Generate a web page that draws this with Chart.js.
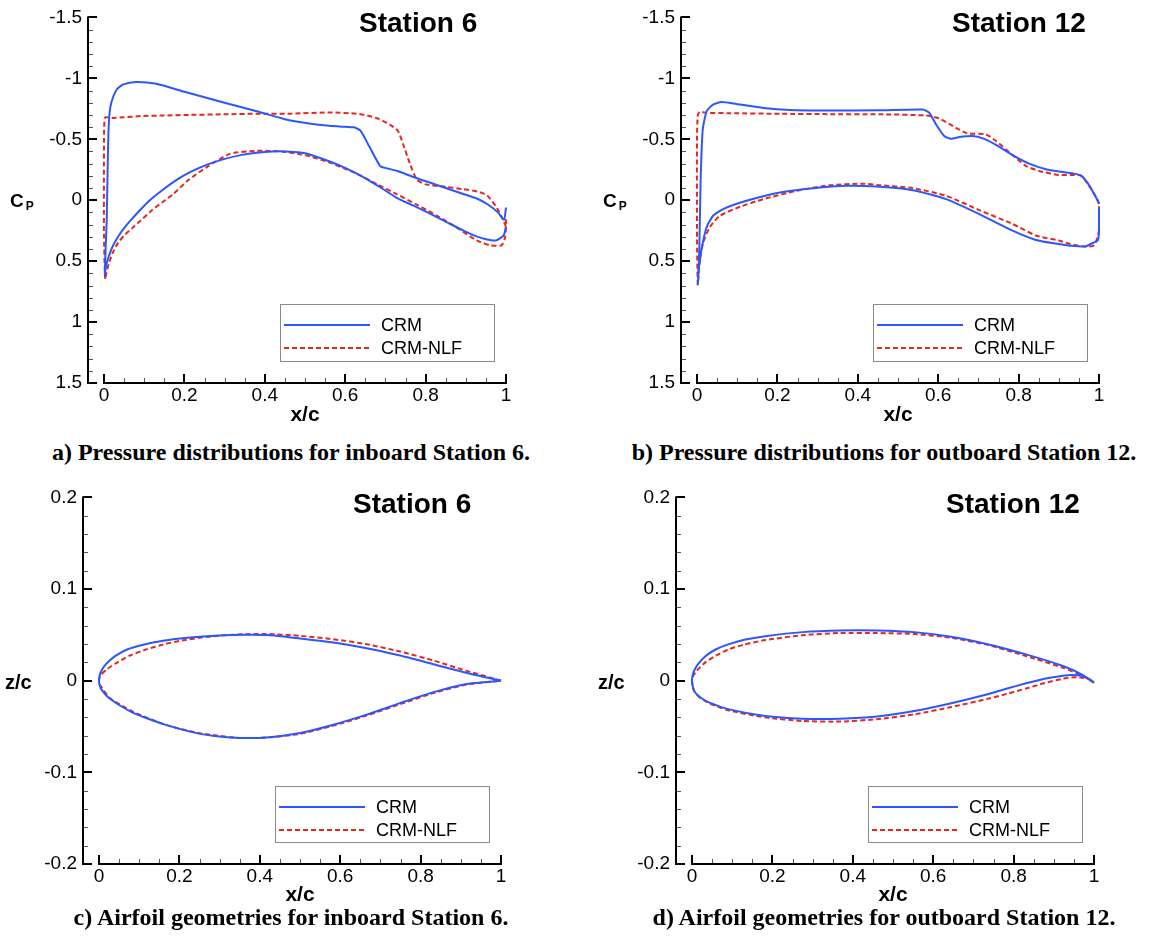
<!DOCTYPE html>
<html><head>
<meta charset="UTF-8">
<title>CRM vs CRM-NLF: pressure distributions and airfoil geometries</title>
<style>
  body { margin: 0; background: #fff; width: 1162px; height: 941px; position: relative; overflow: hidden; }
  canvas { position: absolute; }
  .cap {
    position: absolute; white-space: nowrap; transform: translateX(-50%);
    font: bold 24px "Liberation Serif", "Times New Roman", serif; line-height: 24px; color: #000;
  }
</style>
<script src="https://cdn.jsdelivr.net/npm/chart.js"></script>
</head>
<body>
  <canvas id="cA" width="560" height="430" style="left:0;top:0"></canvas>
  <canvas id="cB" width="560" height="430" style="left:593px;top:0"></canvas>
  <canvas id="cC" width="560" height="461" style="left:0;top:480px"></canvas>
  <canvas id="cD" width="560" height="461" style="left:593px;top:480px"></canvas>

  <div class="cap" style="left:291px;top:440px">a) Pressure distributions for inboard Station 6.</div>
  <div class="cap" style="left:884px;top:440px">b) Pressure distributions for outboard Station 12.</div>
  <div class="cap" style="left:291px;top:905px">c) Airfoil geometries for inboard Station 6.</div>
  <div class="cap" style="left:884px;top:905px">d) Airfoil geometries for outboard Station 12.</div>

<script>
// ticks
const xTicks = [0, 0.2, 0.4, 0.6, 0.8, 1];
const cpTicks = [-1.5, -1, -0.5, 0, 0.5, 1, 1.5];
const zTicks = [-0.2, -0.1, 0, 0.1, 0.2];
const seriesNames = ['CRM', 'CRM-NLF'];

// Station 6, Cp (upper and lower surface, leading edge -> trailing edge)
const s6CrmUpX  = [0.002, 0.004, 0.0067, 0.009, 0.011, 0.014, 0.019, 0.032, 0.048, 0.08, 0.13, 0.2, 0.3, 0.38, 0.45, 0.51, 0.56, 0.6, 0.622, 0.638, 0.66, 0.687, 0.7, 0.73, 0.77, 0.81, 0.85, 0.89, 0.93, 0.955, 0.98, 0.995, 1.0];
const s6CrmUpCp = [0.62, 0.4, 0.17, -0.25, -0.55, -0.72, -0.81, -0.91, -0.95, -0.97, -0.955, -0.89, -0.8, -0.73, -0.665, -0.63, -0.61, -0.602, -0.598, -0.57, -0.44, -0.28, -0.265, -0.24, -0.19, -0.145, -0.1, -0.055, -0.01, 0.035, 0.1, 0.16, 0.06];
const s6CrmLoX  = [0.002, 0.004, 0.01, 0.02, 0.035, 0.05, 0.065, 0.09, 0.114, 0.14, 0.175, 0.214, 0.255, 0.298, 0.34, 0.38, 0.42, 0.454, 0.5, 0.56, 0.6, 0.645, 0.69, 0.728, 0.77, 0.811, 0.85, 0.894, 0.925, 0.95, 0.975, 0.994, 1.0];
const s6CrmLoCp = [0.62, 0.56, 0.48, 0.39, 0.3, 0.23, 0.17, 0.08, 0.0, -0.07, -0.155, -0.23, -0.29, -0.337, -0.37, -0.39, -0.4, -0.4, -0.385, -0.32, -0.265, -0.19, -0.1, -0.02, 0.045, 0.11, 0.175, 0.25, 0.295, 0.32, 0.33, 0.29, 0.22];
const s6NlfUpX  = [0.003, 0.0, 0.0, 0.002, 0.01, 0.025, 0.048, 0.09, 0.15, 0.214, 0.3, 0.38, 0.463, 0.562, 0.629, 0.655, 0.685, 0.711, 0.731, 0.744, 0.761, 0.778, 0.8, 0.85, 0.894, 0.93, 0.953, 0.977, 0.994, 1.0];
const s6NlfUpCp = [0.65, 0.3, -0.5, -0.677, -0.68, -0.675, -0.68, -0.69, -0.695, -0.7, -0.705, -0.71, -0.71, -0.72, -0.71, -0.695, -0.665, -0.62, -0.57, -0.46, -0.3, -0.17, -0.13, -0.11, -0.09, -0.07, -0.04, 0.06, 0.17, 0.22];
const s6NlfLoX  = [0.003, 0.006, 0.012, 0.022, 0.035, 0.05, 0.07, 0.09, 0.12, 0.152, 0.172, 0.21, 0.255, 0.313, 0.38, 0.44, 0.5, 0.56, 0.62, 0.68, 0.728, 0.78, 0.83, 0.88, 0.927, 0.96, 0.989, 0.998, 1.0];
const s6NlfLoCp = [0.65, 0.6, 0.52, 0.43, 0.35, 0.29, 0.23, 0.17, 0.08, 0.0, -0.05, -0.165, -0.27, -0.38, -0.405, -0.4, -0.37, -0.31, -0.23, -0.13, -0.05, 0.04, 0.13, 0.23, 0.33, 0.37, 0.37, 0.3, 0.15];

// Station 12, Cp
const s12CrmUpX  = [0.002, 0.004, 0.0058, 0.009, 0.014, 0.024, 0.04, 0.061, 0.098, 0.165, 0.231, 0.33, 0.454, 0.562, 0.578, 0.595, 0.615, 0.632, 0.653, 0.686, 0.711, 0.744, 0.785, 0.826, 0.868, 0.9, 0.937, 0.956, 0.974, 0.993, 1.0];
const s12CrmUpCp = [0.69, 0.55, 0.39, -0.16, -0.57, -0.73, -0.785, -0.806, -0.79, -0.757, -0.74, -0.736, -0.738, -0.744, -0.717, -0.62, -0.526, -0.504, -0.518, -0.526, -0.507, -0.453, -0.37, -0.3, -0.254, -0.235, -0.218, -0.2, -0.13, -0.02, 0.03];
const s12CrmLoX  = [0.002, 0.005, 0.012, 0.024, 0.04, 0.065, 0.123, 0.206, 0.289, 0.371, 0.454, 0.537, 0.62, 0.702, 0.785, 0.843, 0.9, 0.928, 0.965, 0.988, 0.997, 1.0, 1.0];
const s12CrmLoCp = [0.69, 0.55, 0.39, 0.22, 0.128, 0.073, 0.005, -0.063, -0.099, -0.118, -0.11, -0.082, -0.009, 0.114, 0.25, 0.326, 0.36, 0.373, 0.38, 0.346, 0.33, 0.25, 0.06];
const s12NlfUpX  = [0.002, 0.0, 0.0, 0.002, 0.0075, 0.023, 0.082, 0.206, 0.33, 0.454, 0.57, 0.603, 0.644, 0.673, 0.719, 0.744, 0.785, 0.818, 0.851, 0.9, 0.937, 0.956, 0.979, 0.997, 1.0];
const s12NlfUpCp = [0.69, 0.3, -0.5, -0.7, -0.725, -0.717, -0.714, -0.709, -0.706, -0.705, -0.695, -0.67, -0.594, -0.548, -0.54, -0.485, -0.37, -0.281, -0.24, -0.207, -0.207, -0.2, -0.1, 0.0, 0.03];
const s12NlfLoX  = [0.002, 0.006, 0.015, 0.032, 0.057, 0.107, 0.165, 0.247, 0.33, 0.413, 0.454, 0.537, 0.62, 0.702, 0.785, 0.843, 0.9, 0.928, 0.965, 0.988, 1.0, 1.0];
const s12NlfLoCp = [0.69, 0.52, 0.35, 0.22, 0.128, 0.054, -0.009, -0.077, -0.123, -0.136, -0.123, -0.099, -0.036, 0.081, 0.195, 0.29, 0.33, 0.36, 0.38, 0.37, 0.25, 0.05];

// Station 6, geometry z/c
const g6CrmUpX = [0, 0.002, 0.005, 0.011, 0.02, 0.04, 0.07, 0.11, 0.16, 0.22, 0.3, 0.36, 0.42, 0.5, 0.583, 0.666, 0.749, 0.832, 0.915, 1.0];
const g6CrmUpZ = [0, 0.0064, 0.0098, 0.0145, 0.0193, 0.0268, 0.034, 0.0392, 0.0435, 0.0468, 0.0494, 0.0502, 0.0498, 0.046, 0.0416, 0.0354, 0.0274, 0.018, 0.0085, 0];
const g6CrmLoX = [0, 0.002, 0.006, 0.02, 0.05, 0.085, 0.119, 0.168, 0.243, 0.3, 0.351, 0.417, 0.5, 0.583, 0.666, 0.749, 0.832, 0.915, 1.0];
const g6CrmLoZ = [0, -0.0055, -0.0095, -0.017, -0.0265, -0.035, -0.041, -0.0485, -0.0572, -0.061, -0.0625, -0.062, -0.057, -0.048, -0.037, -0.0245, -0.0125, -0.0035, 0];
const g6NlfUpX = [0, 0.002, 0.005, 0.02, 0.04, 0.077, 0.12, 0.16, 0.2, 0.27, 0.334, 0.417, 0.5, 0.583, 0.666, 0.749, 0.832, 0.915, 1.0];
const g6NlfUpZ = [0, 0.004, 0.0065, 0.0125, 0.0185, 0.0275, 0.0345, 0.0395, 0.0435, 0.048, 0.0502, 0.051, 0.049, 0.0452, 0.0398, 0.0318, 0.022, 0.0107, 0];
const g6NlfLoX = [0, 0.002, 0.006, 0.027, 0.085, 0.168, 0.25, 0.351, 0.417, 0.5, 0.583, 0.666, 0.749, 0.832, 0.915, 1.0];
const g6NlfLoZ = [0, -0.004, -0.007, -0.019, -0.034, -0.0485, -0.0572, -0.0625, -0.062, -0.058, -0.049, -0.038, -0.0256, -0.0135, -0.0042, 0];

// Station 12, geometry z/c
const g12CrmUpX = [0, 0.002, 0.0065, 0.015, 0.034, 0.06, 0.09, 0.13, 0.182, 0.275, 0.368, 0.46, 0.553, 0.645, 0.738, 0.831, 0.923, 0.969, 1.0];
const g12CrmUpZ = [0, 0.0067, 0.012, 0.0182, 0.027, 0.0343, 0.0396, 0.0447, 0.0486, 0.053, 0.0548, 0.0548, 0.053, 0.048, 0.0396, 0.0287, 0.016, 0.0069, -0.002];
const g12CrmLoX = [0, 0.002, 0.0065, 0.02, 0.0435, 0.09, 0.182, 0.275, 0.368, 0.46, 0.553, 0.645, 0.738, 0.784, 0.831, 0.877, 0.923, 0.945, 0.969, 0.988, 1.0];
const g12CrmLoZ = [0, -0.0065, -0.012, -0.018, -0.024, -0.031, -0.0385, -0.0414, -0.0414, -0.039, -0.033, -0.0245, -0.0145, -0.0085, -0.0028, 0.0022, 0.0055, 0.0062, 0.0053, 0.002, -0.002];
const g12NlfUpX = [0, 0.002, 0.011, 0.034, 0.06, 0.09, 0.13, 0.182, 0.275, 0.368, 0.46, 0.553, 0.645, 0.738, 0.831, 0.923, 0.969, 1.0];
const g12NlfUpZ = [0, 0.0045, 0.0105, 0.0203, 0.0275, 0.034, 0.0395, 0.0443, 0.0497, 0.052, 0.052, 0.051, 0.0468, 0.0388, 0.0269, 0.0142, 0.0058, -0.002];
const g12NlfLoX = [0, 0.002, 0.0065, 0.02, 0.0435, 0.09, 0.182, 0.275, 0.368, 0.46, 0.553, 0.645, 0.738, 0.784, 0.831, 0.877, 0.923, 0.951, 0.975, 0.99, 1.0];
const g12NlfLoZ = [0, -0.0065, -0.012, -0.0185, -0.0247, -0.0323, -0.04, -0.044, -0.0446, -0.042, -0.0367, -0.0287, -0.0195, -0.0142, -0.0085, -0.0025, 0.0022, 0.0038, 0.003, 0.001, -0.003];

const BLUE = '#2b57ff';
const RED = '#e8271c';
const SANS = '"Liberation Sans", Arial, Helvetica, sans-serif';

// upper surface walked backwards (TE -> LE), then lower surface (LE -> TE)
function loop(ux, uy, lx, ly) {
  const pts = [];
  for (let i = ux.length - 1; i >= 0; i--) pts.push({ x: ux[i], y: uy[i] });
  for (let i = 1; i < lx.length; i++) pts.push({ x: lx[i], y: ly[i] });
  return pts;
}

const fmt = v => String(Math.round(v * 100) / 100);

// axis lines, inward ticks, title, legend and axis labels drawn Tecplot-style
const frame = {
  id: 'frame',
  afterDraw(chart, args, o) {
    const { ctx, chartArea: a, scales: { x, y } } = chart;
    const seg = (x1, y1, x2, y2) => { ctx.beginPath(); ctx.moveTo(x1, y1); ctx.lineTo(x2, y2); ctx.stroke(); };
    ctx.save();

    // minor ticks
    ctx.strokeStyle = '#555';
    ctx.lineWidth = 1;
    let n = Math.round((y.max - y.min) / o.yMinor);
    for (let i = 0; i <= n; i++) {
      const p = Math.round(y.getPixelForValue(y.min + i * o.yMinor)) + 0.5;
      seg(a.left, p, a.left + 5, p);
    }
    n = Math.round(1 / o.xMinor);
    for (let i = 0; i <= n; i++) {
      const p = Math.round(x.getPixelForValue(i * o.xMinor)) + 0.5;
      seg(p, a.bottom, p, a.bottom - 5);
    }

    // major ticks
    ctx.strokeStyle = '#000';
    ctx.lineWidth = 2;
    o.yMajor.forEach(v => { const p = Math.round(y.getPixelForValue(v)); seg(a.left, p, a.left + 9, p); });
    xTicks.forEach(v => { const p = Math.round(x.getPixelForValue(v)); seg(p, a.bottom, p, a.bottom - 9); });

    // axis lines
    seg(a.left, a.top - 1, a.left, a.bottom + 1);
    seg(x.getPixelForValue(0) - 1, a.bottom, x.getPixelForValue(1) + 1, a.bottom);

    // station title
    ctx.fillStyle = '#000';
    ctx.textBaseline = 'alphabetic';
    ctx.textAlign = 'left';
    ctx.font = 'bold 28px ' + SANS;
    ctx.fillText(o.title, o.titleX, o.titleY);

    // x label
    ctx.font = 'bold 21px ' + SANS;
    ctx.textAlign = 'center';
    ctx.fillText('x/c', x.getPixelForValue(0.5), o.xLabelY);

    // y label
    ctx.textAlign = 'left';
    if (o.yLabel === 'Cp') {
      ctx.font = 'bold 19px ' + SANS;
      ctx.fillText('C', o.yLabelX, o.yLabelY);
      const w = ctx.measureText('C').width;
      ctx.font = 'bold 12px ' + SANS;
      ctx.fillText('P', o.yLabelX + w + 2, o.yLabelY + 3);
    } else {
      ctx.font = 'bold 20px ' + SANS;
      ctx.fillText(o.yLabel, o.yLabelX, o.yLabelY);
    }

    // legend
    const L = o.legend;
    ctx.strokeStyle = '#8a8a8a';
    ctx.lineWidth = 1;
    ctx.strokeRect(L.x + 0.5, L.y + 0.5, L.w, L.h);
    ctx.font = '18px ' + SANS;
    ctx.textBaseline = 'middle';
    chart.data.datasets.forEach((ds, i) => {
      const ry = L.y + 21 + i * 23;
      ctx.strokeStyle = ds.borderColor;
      ctx.lineWidth = 2;
      ctx.setLineDash(ds.borderDash || []);
      seg(L.x + 4, ry, L.x + 90, ry);
      ctx.setLineDash([]);
      ctx.fillStyle = '#000';
      ctx.fillText(ds.label, L.x + 101, ry + 1);
    });
    ctx.restore();
  }
};

const topLayout = {
  padTop: 16, padRight: 54, yW: 88, xH: 47, xMin: -16 / 402,
  titleX: 359, titleY: 32, xLabelY: 421, yLabelX: 10, yLabelY: 207,
  legend: { x: 280, y: 304, w: 214, h: 57 }
};
const bottomLayout = {
  padTop: 17, padRight: 59, yW: 83, xH: 77, xMin: -16 / 402,
  titleX: 353, titleY: 33, xLabelY: 421, yLabelX: 5, yLabelY: 209,
  legend: { x: 275, y: 306, w: 214, h: 56 }
};

function makePanel(id, lay, p) {
  const tickFont = { family: SANS, size: 19 };
  new Chart(document.getElementById(id), {
    type: 'scatter',
    data: {
      datasets: [
        { label: seriesNames[0], data: p.crm, borderColor: BLUE, borderWidth: 2, showLine: true,
          pointRadius: 0, tension: 0.2, clip: false },
        { label: seriesNames[1], data: p.nlf, borderColor: RED, borderWidth: 2, borderDash: [5, 3], showLine: true,
          pointRadius: 0, tension: 0.2, clip: false }
      ]
    },
    options: {
      responsive: false,
      animation: false,
      layout: { padding: { top: lay.padTop, right: lay.padRight, left: 0, bottom: 0 } },
      plugins: {
        legend: { display: false },
        tooltip: { enabled: false },
        frame: {
          title: p.title, titleX: lay.titleX, titleY: lay.titleY,
          xLabelY: lay.xLabelY, yLabel: p.yLabel, yLabelX: lay.yLabelX, yLabelY: lay.yLabelY,
          legend: lay.legend, yMajor: p.yTicks, yMinor: p.yMinor, xMinor: 0.05
        }
      },
      scales: {
        x: {
          type: 'linear', min: lay.xMin, max: 1,
          afterBuildTicks: s => { s.ticks = xTicks.map(v => ({ value: v })); },
          afterFit: s => { s.height = lay.xH; },
          grid: { display: false, drawTicks: false },
          border: { display: false },
          ticks: { font: tickFont, color: '#000', padding: 1, autoSkip: false, maxRotation: 0, callback: fmt }
        },
        y: {
          type: 'linear', min: p.yTicks[0], max: p.yTicks[p.yTicks.length - 1], reverse: p.reverse,
          afterBuildTicks: s => { s.ticks = p.yTicks.map(v => ({ value: v })); },
          afterFit: s => { s.width = lay.yW; },
          grid: { display: false, drawTicks: false },
          border: { display: false },
          ticks: { font: tickFont, color: '#000', padding: 6, autoSkip: false, callback: fmt }
        }
      }
    },
    plugins: [frame]
  });
}

makePanel('cA', topLayout, {
  title: 'Station 6', yLabel: 'Cp', yTicks: cpTicks, yMinor: 0.1, reverse: true,
  crm: loop(s6CrmUpX, s6CrmUpCp, s6CrmLoX, s6CrmLoCp),
  nlf: loop(s6NlfUpX, s6NlfUpCp, s6NlfLoX, s6NlfLoCp)
});
makePanel('cB', topLayout, {
  title: 'Station 12', yLabel: 'Cp', yTicks: cpTicks, yMinor: 0.1, reverse: true,
  crm: loop(s12CrmUpX, s12CrmUpCp, s12CrmLoX, s12CrmLoCp),
  nlf: loop(s12NlfUpX, s12NlfUpCp, s12NlfLoX, s12NlfLoCp)
});
makePanel('cC', bottomLayout, {
  title: 'Station 6', yLabel: 'z/c', yTicks: zTicks, yMinor: 0.02, reverse: false,
  crm: loop(g6CrmUpX, g6CrmUpZ, g6CrmLoX, g6CrmLoZ),
  nlf: loop(g6NlfUpX, g6NlfUpZ, g6NlfLoX, g6NlfLoZ)
});
makePanel('cD', bottomLayout, {
  title: 'Station 12', yLabel: 'z/c', yTicks: zTicks, yMinor: 0.02, reverse: false,
  crm: loop(g12CrmUpX, g12CrmUpZ, g12CrmLoX, g12CrmLoZ),
  nlf: loop(g12NlfUpX, g12NlfUpZ, g12NlfLoX, g12NlfLoZ)
});
</script>
</body></html>
